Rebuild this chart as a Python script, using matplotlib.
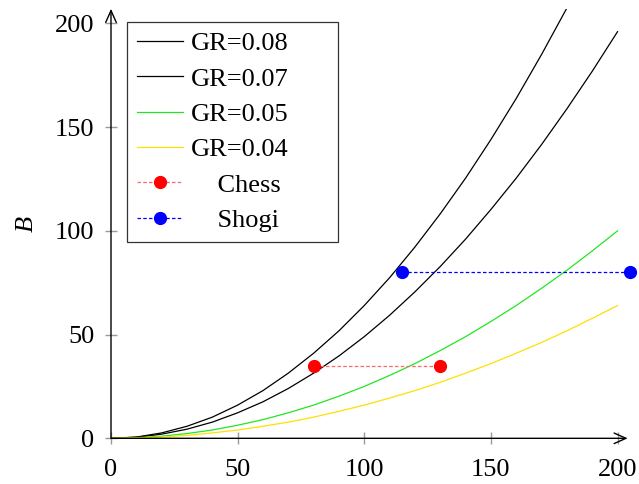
import matplotlib
matplotlib.use("Agg")
import matplotlib.pyplot as plt

# Data
L = [0, 10, 20, 30, 40, 50, 60, 70, 80, 90, 100, 110, 120, 130, 140, 150, 160, 170, 180, 190, 200]
B_gr08 = [0, 0.6, 2.6, 5.8, 10.2, 16.0, 23.0, 31.4, 41.0, 51.8, 64.0, 77.4, 92.2, 108.2, 125.4, 144.0, 163.8, 185.0, 207.4, 231.0, 256.0]
B_gr07 = [0, 0.5, 2.0, 4.4, 7.8, 12.3, 17.6, 24.0, 31.4, 39.7, 49.0, 59.3, 70.6, 82.8, 96.0, 110.3, 125.4, 141.6, 158.8, 176.9, 196.0]
B_gr05 = [0, 0.3, 1.0, 2.3, 4.0, 6.3, 9.0, 12.3, 16.0, 20.3, 25.0, 30.3, 36.0, 42.3, 49.0, 56.3, 64.0, 72.3, 81.0, 90.3, 100.0]
B_gr04 = [0, 0.2, 0.6, 1.4, 2.6, 4.0, 5.8, 7.8, 10.2, 13.0, 16.0, 19.4, 23.0, 27.0, 31.4, 36.0, 41.0, 46.2, 51.8, 57.8, 64.0]
chess_x = [80, 130]
chess_y = [35, 35]
shogi_x = [115, 205]
shogi_y = [80, 80]
xticks = [0, 50, 100, 150, 200]
yticks = [0, 50, 100, 150, 200]

plt.rcParams['font.family'] = ['Liberation Serif', 'DejaVu Serif']
plt.rcParams['font.size'] = 19

fig = plt.figure(figsize=(6.39, 4.84), dpi=100)
ax = fig.add_axes([0.1737, 0.0944, 0.8086, 0.8874])

lw = 0.9
ax.plot(L, B_gr08, color='black', lw=lw, label='GR=0.08')
ax.plot(L, B_gr07, color='black', lw=lw, label='GR=0.07')
ax.plot(L, B_gr05, color='#22e622', lw=lw, label='GR=0.05')
ax.plot(L, B_gr04, color='#ffe000', lw=lw, label='GR=0.04')
ax.plot(chess_x, chess_y, color='#ff6666', lw=lw, ls=(0, (2.8, 1.8)),
        marker='o', mfc='red', mec='red', ms=8.5, label='    Chess', clip_on=False, zorder=5)
ax.plot(shogi_x, shogi_y, color='blue', lw=lw, ls=(0, (2.8, 1.8)),
        marker='o', mfc='blue', mec='blue', ms=8.5, label='    Shogi', clip_on=False, zorder=5)

ax.set_xlim(0, 204)
ax.set_ylim(0, 207)
ax.set_xticks(xticks)
ax.set_yticks(yticks)

for s in ['top', 'right', 'left', 'bottom']:
    ax.spines[s].set_visible(False)
ax.annotate('', xy=(1.0, 0), xytext=(0, 0), xycoords='axes fraction',
            arrowprops=dict(arrowstyle='->,head_length=0.45,head_width=0.2', color='black', lw=1.0,
                            shrinkA=0, shrinkB=0))
ax.annotate('', xy=(0, 1.0), xytext=(0, 0), xycoords='axes fraction',
            arrowprops=dict(arrowstyle='->,head_length=0.45,head_width=0.2', color='black', lw=1.0,
                            shrinkA=0, shrinkB=0))

ax.tick_params(axis='both', direction='inout', length=8, width=1, color='#999999', labelcolor='black')
ax.tick_params(axis='x', pad=11)
ax.tick_params(axis='y', pad=8)

ax.set_ylabel('B', fontstyle='italic', labelpad=12)

leg = ax.legend(loc='upper left', bbox_to_anchor=(0.031, 0.970, 0.408, 0.0), mode='expand',
                frameon=True, fancybox=False,
                edgecolor='#333333', framealpha=1, handlelength=1.75, handletextpad=0.3,
                labelspacing=0.45, borderpad=0.38, borderaxespad=0, fontsize=19)
leg.get_frame().set_linewidth(0.9)

fig.savefig('out.png', dpi=100)
